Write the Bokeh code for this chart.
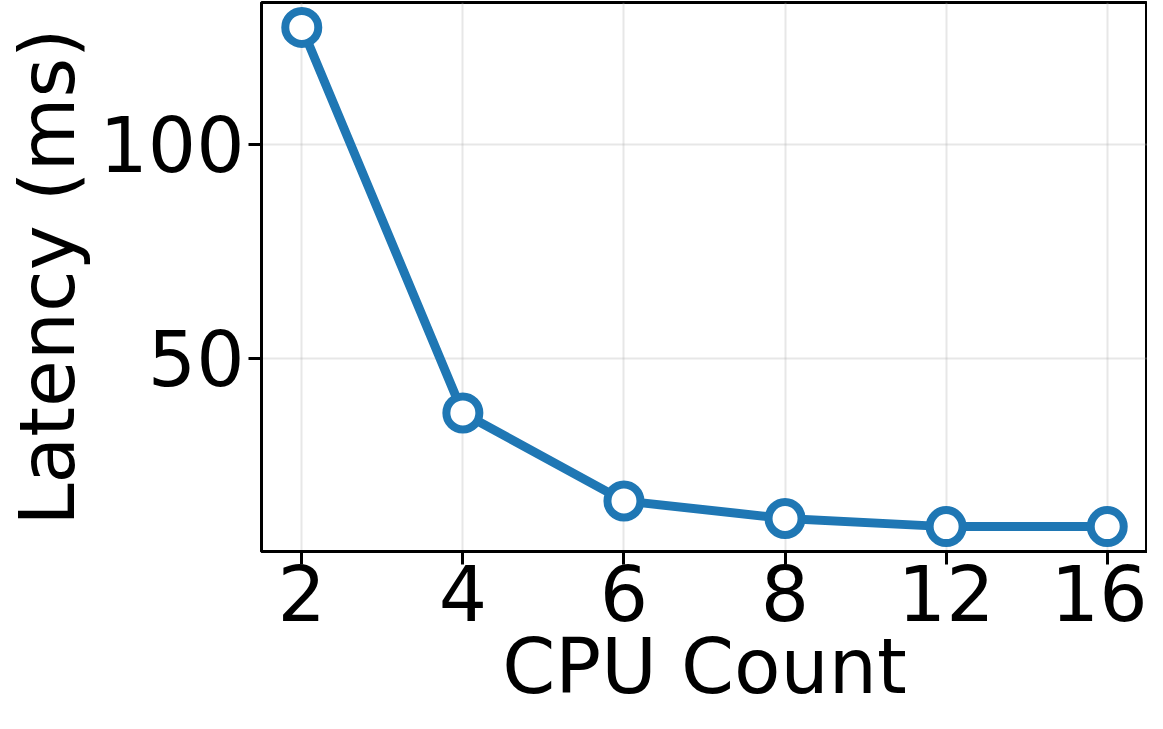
from bokeh.plotting import figure
from bokeh.models import FixedTicker, Range1d
from bokeh.embed import file_html
from bokeh.resources import INLINE

cpu_labels = ["2", "4", "6", "8", "12", "16"]
latency_ms = [127.2, 37.3, 16.8, 12.7, 10.8, 10.8]

x_pos = list(range(len(cpu_labels)))

BLUE = "#1f77b4"
FONT = "DejaVu Sans"
FS = "76px"

p = figure(width=1147, height=713, output_backend="svg", toolbar_location=None,
           x_range=Range1d(-0.25, len(cpu_labels) - 0.75),
           y_range=Range1d(5.0, 133.0))
p.min_border_left = 200
p.min_border_right = 0
p.min_border_top = 2
p.min_border_bottom = 100

p.line(x_pos, latency_ms, line_color=BLUE, line_width=9)
p.scatter(x_pos, latency_ms, size=33, fill_color="white", line_color=BLUE, line_width=8)

p.xaxis.ticker = FixedTicker(ticks=x_pos)
p.xaxis.major_label_overrides = {i: lab for i, lab in enumerate(cpu_labels)}
p.yaxis.ticker = FixedTicker(ticks=[50, 100])

p.xaxis.axis_label = "CPU Count"
p.yaxis.axis_label = "Latency (ms)"

for ax in (p.xaxis[0], p.yaxis[0]):
    ax.axis_label_text_font = FONT
    ax.axis_label_text_font_size = FS
    ax.axis_label_text_font_style = "normal"
    ax.axis_label_text_color = "black"
    ax.major_label_text_font = FONT
    ax.major_label_text_font_size = FS
    ax.major_label_text_color = "black"
    ax.axis_line_color = "black"
    ax.axis_line_width = 3
    ax.major_tick_line_color = "black"
    ax.major_tick_line_width = 3
    ax.major_tick_out = 13
    ax.major_tick_in = 0
    ax.minor_tick_line_color = None

p.xaxis.major_label_standoff = 0
p.xaxis.axis_label_standoff = -2
p.yaxis.major_label_standoff = 4
p.yaxis.axis_label_standoff = 4

p.xgrid.ticker = FixedTicker(ticks=x_pos)
p.ygrid.ticker = FixedTicker(ticks=[50, 100])
p.grid.grid_line_color = "#b0b0b0"
p.grid.grid_line_alpha = 0.3
p.grid.grid_line_width = 2

p.outline_line_color = "black"
p.outline_line_width = 3
p.outline_line_alpha = 1.0

with open("out.html", "w") as f:
    f.write(file_html(p, INLINE))
